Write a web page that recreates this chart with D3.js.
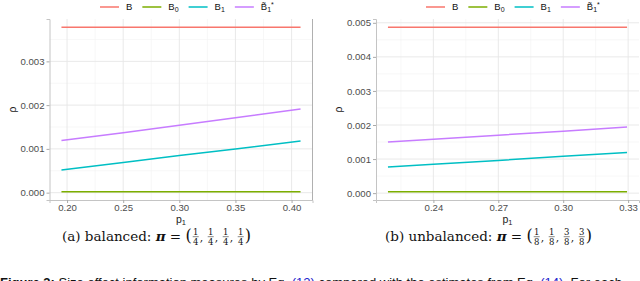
<!DOCTYPE html>
<html>
<head>
<meta charset="utf-8">
<script src="https://cdn.jsdelivr.net/npm/d3@7"></script>
<style>
  body { margin: 0; background: #fff; }
  svg { display: block; }
  text { white-space: pre; }
</style>
</head>
<body>
<div id="chart"></div>
<script>
// series order and colours (ggplot default hue palette)
const seriesKeys = ["B", "B0", "B1", "B1t"];
const seriesColors = ["#F8766D", "#7CAE00", "#00BFC4", "#C77CFF"];

// (a) balanced
const p1Bal = [0.195, 0.25, 0.30, 0.35, 0.408];
const bBal = [0.00378, 0.00378, 0.00378, 0.00378, 0.00378];
const b0Bal = [0.00002, 0.00002, 0.00002, 0.00002, 0.00002];
const b1Bal = [0.00052, 0.00069, 0.00085, 0.00100, 0.00118];
const b1tBal = [0.00119, 0.00137, 0.00154, 0.00171, 0.00191];
const xTicksBal = [0.20, 0.25, 0.30, 0.35, 0.40];
const yTicksBal = [0, 0.001, 0.002, 0.003];

// (b) unbalanced
const p1Unb = [0.219, 0.24, 0.27, 0.30, 0.3295];
const bUnb = [0.00487, 0.00487, 0.00487, 0.00487, 0.00487];
const b0Unb = [0.00004, 0.00004, 0.00004, 0.00004, 0.00004];
const b1Unb = [0.00077, 0.00085, 0.00096, 0.00108, 0.00119];
const b1tUnb = [0.00150, 0.00158, 0.00170, 0.00182, 0.00194];
const xTicksUnb = [0.24, 0.27, 0.30, 0.33];
const yTicksUnb = [0, 0.001, 0.002, 0.003, 0.004, 0.005];

// captions
const fracsBal = [[1, 4], [1, 4], [1, 4], [1, 4]];
const fracsUnb = [[1, 8], [1, 8], [3, 8], [3, 8]];

const width = 640;
const height = 281;
const sans = "Liberation Sans, Arial, sans-serif";
const serif = "DejaVu Serif, serif";

const svg = d3.select("#chart")
    .append("svg")
    .attr("width", width)
    .attr("height", height);

// pad a domain by 5% on each side, like ggplot
function expand(ext) {
    const pad = (ext[1] - ext[0]) * 0.05;
    return [ext[0] - pad, ext[1] + pad];
}

// minor breaks halfway between the majors, also one step outside
function minors(ticks, domain) {
    const step = ticks[1] - ticks[0];
    const out = [];
    for (let i = -1; i < ticks.length; i++) {
        const v = ticks[0] + step * (i + 0.5);
        if (v > domain[0] && v < domain[1]) out.push(v);
    }
    return out;
}

function drawPanel(p) {
    const g = svg.append("g");
    const allY = p.series.flat();
    const x = d3.scaleLinear().domain(expand(d3.extent(p.x))).range([p.left, p.right]);
    const y = d3.scaleLinear().domain(expand(d3.extent(allY))).range([p.bottom, p.top]);

    // grid
    g.selectAll(".minx").data(minors(p.xTicks, x.domain())).enter().append("line")
        .attr("x1", d => x(d)).attr("x2", d => x(d))
        .attr("y1", p.top).attr("y2", p.bottom)
        .attr("stroke", "#f1f1f1").attr("stroke-width", 0.6);
    g.selectAll(".miny").data(minors(p.yTicks, y.domain())).enter().append("line")
        .attr("x1", p.left).attr("x2", p.right)
        .attr("y1", d => y(d)).attr("y2", d => y(d))
        .attr("stroke", "#f1f1f1").attr("stroke-width", 0.6);
    g.selectAll(".majx").data(p.xTicks).enter().append("line")
        .attr("x1", d => x(d)).attr("x2", d => x(d))
        .attr("y1", p.top).attr("y2", p.bottom)
        .attr("stroke", "#e6e6e6").attr("stroke-width", 0.9);
    g.selectAll(".majy").data(p.yTicks).enter().append("line")
        .attr("x1", p.left).attr("x2", p.right)
        .attr("y1", d => y(d)).attr("y2", d => y(d))
        .attr("stroke", "#e6e6e6").attr("stroke-width", 0.9);

    // axes
    const xAxis = g.append("g")
        .attr("transform", `translate(0,${p.bottom})`)
        .call(d3.axisBottom(x).tickValues(p.xTicks).tickFormat(d3.format(".2f")).tickSize(3).tickPadding(1));
    const yAxis = g.append("g")
        .attr("transform", `translate(${p.left},0)`)
        .call(d3.axisLeft(y).tickValues(p.yTicks).tickFormat(d3.format(".3f")).tickSize(3).tickPadding(2));
    [xAxis, yAxis].forEach(a => {
        a.select(".domain").attr("stroke", "#c4c4c4");
        a.selectAll(".tick line").attr("stroke", "#aaaaaa");
        a.selectAll(".tick text").attr("fill", "#4d4d4d")
            .attr("font-family", sans).attr("font-size", 9.6);
    });
    if (p.rightBorder) {
        g.append("line").attr("x1", p.right).attr("x2", p.right)
            .attr("y1", p.top).attr("y2", p.bottom)
            .attr("stroke", "#b0b0b0").attr("stroke-width", 1);
    }

    // lines
    const line = d3.line().x((d, i) => x(p.x[i])).y(d => y(d));
    g.selectAll(".series").data(p.series).enter().append("path")
        .attr("d", d => line(d))
        .attr("fill", "none")
        .attr("stroke", (d, i) => seriesColors[i])
        .attr("stroke-width", 1.5);

    // axis titles
    const xt = g.append("text")
        .attr("x", (p.left + p.right) / 2).attr("y", 222.5)
        .attr("text-anchor", "middle").attr("font-family", sans).attr("font-size", 10.5).attr("fill", "#222");
    xt.append("tspan").text("p");
    xt.append("tspan").attr("font-size", 7.5).attr("dy", 2).text("1");
    g.append("text")
        .attr("transform", `translate(${p.left - 34},${(p.top + p.bottom) / 2}) rotate(-90)`)
        .attr("text-anchor", "middle").attr("font-family", sans).attr("font-size", 10.5).attr("fill", "#222")
        .text("ρ");

    // legend
    let lx = p.legendX;
    const ly = 7;
    seriesKeys.forEach((k, i) => {
        g.append("line").attr("x1", lx).attr("x2", lx + 19)
            .attr("y1", ly).attr("y2", ly)
            .attr("stroke", seriesColors[i]).attr("stroke-width", 1.5);
        const t = g.append("text").attr("x", lx + 26).attr("y", ly + 3.3)
            .attr("font-family", sans).attr("font-size", 9.5).attr("fill", "#111");
        if (k === "B") t.append("tspan").text("B");
        if (k === "B0") { t.append("tspan").text("B"); t.append("tspan").attr("font-size", 7).attr("dy", 2).text("0"); }
        if (k === "B1") { t.append("tspan").text("B"); t.append("tspan").attr("font-size", 7).attr("dy", 2).text("1"); }
        if (k === "B1t") {
            t.append("tspan").text("B\u0303");
            t.append("tspan").attr("font-size", 7).attr("dy", 2).text("1");
            t.append("tspan").attr("font-size", 7).attr("dy", -5).text("*");
        }
        lx += 26 + t.node().getComputedTextLength() + 10;
    });
}

drawPanel({
    x: p1Bal, series: [bBal, b0Bal, b1Bal, b1tBal],
    xTicks: xTicksBal, yTicks: yTicksBal,
    left: 49.5, right: 312.5, top: 19, bottom: 200,
    rightBorder: true, legendX: 100
});
drawPanel({
    x: p1Unb, series: [bUnb, b0Unb, b1Unb, b1tUnb],
    xTicks: xTicksUnb, yTicks: yTicksUnb,
    left: 376, right: 639, top: 19, bottom: 200,
    rightBorder: false, legendX: 426
});

// sub-figure captions
function caption(x0, y, prefix, fracs) {
    const g = svg.append("g");
    let x = x0;
    const add = (txt, opts) => {
        const t = g.append("text").attr("x", x).attr("y", y)
            .attr("font-family", serif).attr("font-size", opts.size || 13.5).attr("fill", "#111")
            .attr("font-weight", opts.bold ? "bold" : null)
            .attr("font-style", opts.italic ? "italic" : null)
            .text(txt);
        x += t.node().getComputedTextLength();
        return t;
    };
    add(prefix, {});
    add("π", { bold: true, italic: true });
    add(" = ", {});
    add("(", { size: 16 });
    fracs.forEach((f, i) => {
        x += 1;
        g.append("text").attr("x", x + 3).attr("y", y - 6.2).attr("text-anchor", "middle")
            .attr("font-family", serif).attr("font-size", 8.5).attr("fill", "#111").text(f[0]);
        g.append("line").attr("x1", x).attr("x2", x + 6).attr("y1", y - 4.3).attr("y2", y - 4.3)
            .attr("stroke", "#111").attr("stroke-width", 0.5);
        g.append("text").attr("x", x + 3).attr("y", y + 4).attr("text-anchor", "middle")
            .attr("font-family", serif).attr("font-size", 8.5).attr("fill", "#111").text(f[1]);
        x += 7;
        if (i < fracs.length - 1) add(", ", { size: 11 });
    });
    add(")", { size: 16 });
}
caption(62, 241, "(a) balanced: ", fracsBal);
caption(385, 241, "(b) unbalanced: ", fracsUnb);

// figure caption, cut by the bottom edge
const fig = svg.append("text").attr("x", 0).attr("y", 287)
    .attr("font-family", sans).attr("font-size", 13).attr("fill", "#111");
fig.append("tspan").attr("font-weight", "bold").text("Figure 3: ");
fig.append("tspan").text("Size effect information measures by Eq. ");
fig.append("tspan").attr("fill", "#2222cc").text("(12)");
fig.append("tspan").text(" compared with the estimates from Eq. ");
fig.append("tspan").attr("fill", "#2222cc").text("(14)");
fig.append("tspan").text(". For each");
</script>
</body>
</html>
